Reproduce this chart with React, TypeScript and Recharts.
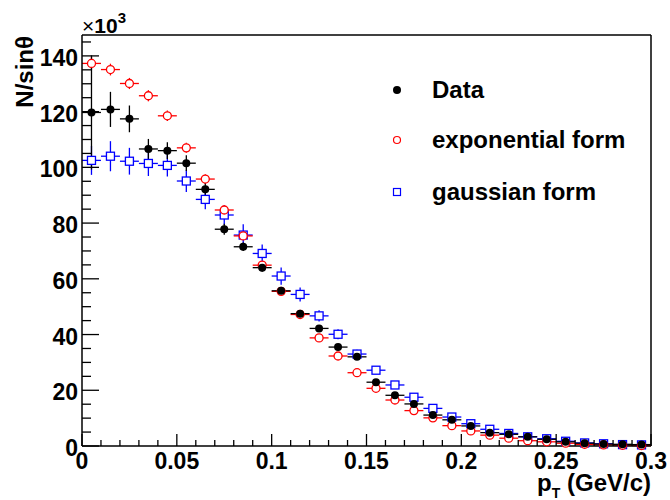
import { ScatterChart, Scatter, XAxis, YAxis, ErrorBar, ReferenceLine, Legend } from "recharts";

// bin centres in p_T (GeV/c), bin width 0.01
const ptCenters = [
  0.005, 0.015, 0.025, 0.035, 0.045, 0.055, 0.065, 0.075, 0.085, 0.095,
  0.105, 0.115, 0.125, 0.135, 0.145, 0.155, 0.165, 0.175, 0.185, 0.195,
  0.205, 0.215, 0.225, 0.235, 0.245, 0.255, 0.265, 0.275, 0.285, 0.295,
];
const binHalfWidth = 0.005;

// N/sin(theta), units of 10^3
const dataValues = [
  119.7, 120.8, 117.4, 106.6, 106.0, 101.5, 92.1, 77.8, 71.5, 64.0,
  55.7, 47.5, 42.2, 35.5, 32.0, 22.9, 18.2, 15.1, 11.1, 9.4,
  7.2, 4.8, 4.2, 3.3, 2.4, 1.5, 1.0, 0.7, 0.6, 0.5,
];
const dataErrors = [
  20.5, 6.3, 4.8, 3.6, 3.0, 2.8, 2.5, 2.0, 1.5, 1.5,
  1.2, 1.0, 1.0, 1.0, 0.8, 0.8, 0.7, 0.6, 0.5, 0.5,
  0.4, 0.4, 0.3, 0.3, 0.3, 0.2, 0.2, 0.2, 0.1, 0.1,
];

const expValues = [
  137.3, 135.1, 130.1, 125.7, 118.5, 107.0, 95.8, 84.7, 75.4, 64.9,
  55.5, 47.2, 38.8, 32.3, 26.3, 20.7, 16.5, 12.7, 10.1, 7.3,
  5.4, 3.9, 2.8, 1.9, 1.5, 1.0, 0.6, 0.4, 0.25, 0.15,
];
const expErrors = [
  2.2, 2.1, 2.0, 2.0, 1.9, 1.8, 1.7, 1.6, 1.5, 1.4,
  1.3, 1.2, 1.1, 1.0, 0.9, 0.8, 0.7, 0.6, 0.5, 0.5,
  0.4, 0.4, 0.3, 0.3, 0.2, 0.2, 0.2, 0.1, 0.1, 0.1,
];

const gausValues = [
  102.5, 104.0, 102.2, 101.4, 100.7, 95.1, 88.5, 82.9, 75.7, 69.1,
  61.0, 54.4, 46.7, 40.1, 33.0, 27.2, 21.9, 17.5, 13.5, 10.4,
  8.0, 6.0, 4.5, 3.3, 2.6, 1.7, 1.1, 0.8, 0.5, 0.4,
];
const gausErrors = [
  5.2, 5.4, 4.8, 4.5, 4.0, 3.9, 3.5, 3.5, 3.9, 3.2,
  3.1, 2.5, 2.0, 1.8, 1.5, 1.2, 1.0, 0.9, 0.8, 0.7,
  0.6, 0.5, 0.4, 0.4, 0.3, 0.3, 0.2, 0.2, 0.2, 0.1,
];

const seriesNames = ["Data", "exponential form", "gaussian form"];

// axis ticks (minor every 0.01 / 5, labelled majors)
const xTicks = [
  0, 0.01, 0.02, 0.03, 0.04, 0.05, 0.06, 0.07, 0.08, 0.09, 0.1,
  0.11, 0.12, 0.13, 0.14, 0.15, 0.16, 0.17, 0.18, 0.19, 0.2,
  0.21, 0.22, 0.23, 0.24, 0.25, 0.26, 0.27, 0.28, 0.29, 0.3,
];
const xMajorTicks = [0, 0.05, 0.1, 0.15, 0.2, 0.25, 0.3];
const xTickLabels = ["0", "0.05", "0.1", "0.15", "0.2", "0.25", "0.3"];

const yTicks = [
  0, 5, 10, 15, 20, 25, 30, 35, 40, 45, 50, 55, 60, 65, 70, 75,
  80, 85, 90, 95, 100, 105, 110, 115, 120, 125, 130, 135, 140, 145,
];
const yMajorTicks = [0, 20, 40, 60, 80, 100, 120, 140];
const yTickLabels = ["0", "20", "40", "60", "80", "100", "120", "140"];
const yMax = 147.5;

const FONT = '"Liberation Sans", Arial, Helvetica, sans-serif';

const toPoints = (values: number[], errors: number[]) =>
  ptCenters.map((x, i) => ({ x, y: values[i], ex: binHalfWidth, ey: errors[i] }));

const dataPoints = toPoints(dataValues, dataErrors);
const expPoints = toPoints(expValues, expErrors);
const gausPoints = toPoints(gausValues, gausErrors);

// --- markers ---
const FilledCircle = ({ cx, cy }: any) => <circle cx={cx} cy={cy} r={4} fill="#000" />;
const OpenCircle = ({ cx, cy }: any) => (
  <circle cx={cx} cy={cy} r={4} fill="#fff" stroke="#ff0000" strokeWidth={1.3} />
);
const OpenSquare = ({ cx, cy }: any) => (
  <rect x={cx - 4} y={cy - 4} width={8} height={8} fill="#fff" stroke="#0000ff" strokeWidth={1.3} />
);

// --- ticks drawn inside the frame, ROOT style ---
const XTick = ({ x, y, payload }: any) => {
  const k = xMajorTicks.findIndex((m) => Math.abs(m - payload.value) < 1e-6);
  const major = k >= 0;
  return (
    <g>
      <line x1={x} x2={x} y1={y} y2={y - (major ? 12 : 6)} stroke="#000" strokeWidth={1.3} />
      {major && (
        <text x={x} y={y + 23} textAnchor="middle" fontSize={23} fontWeight="bold" fontFamily={FONT} fill="#000">
          {xTickLabels[k]}
        </text>
      )}
    </g>
  );
};

const YTick = ({ x, y, payload }: any) => {
  const k = yMajorTicks.indexOf(payload.value);
  const major = k >= 0;
  return (
    <g>
      <line x1={x} x2={x + (major ? 17 : 9)} y1={y} y2={y} stroke="#000" strokeWidth={1.3} />
      {major && (
        <text x={x - 4} y={y + 10} textAnchor="end" fontSize={23} fontWeight="bold" fontFamily={FONT} fill="#000">
          {yTickLabels[k]}
        </text>
      )}
    </g>
  );
};

const XTitle = ({ viewBox }: any) => {
  const { x, y, width } = viewBox;
  return (
    <text x={x + width} y={y + 45} textAnchor="end" fontSize={24} fontWeight="bold" fontFamily={FONT} fill="#000">
      p<tspan fontSize={14} dy={7}>T</tspan>
      <tspan dy={-7}> (GeV/c)</tspan>
    </text>
  );
};

const YTitle = ({ viewBox }: any) => {
  const { x, y, width } = viewBox;
  return (
    <g fontFamily={FONT} fill="#000">
      <text transform={`translate(${x + 33}, ${y + 1}) rotate(-90)`} textAnchor="end" fontSize={24} fontWeight="bold">
        N/sinθ
      </text>
      <text x={x + width} y={y - 2} fontSize={21}>
        ×<tspan fontWeight="bold">10</tspan>
        <tspan dy={-10} fontSize={15} fontWeight="bold">3</tspan>
      </text>
    </g>
  );
};

const LegendBox = () => {
  const rows = [28, 78, 130];
  return (
    <svg width={270} height={150} style={{ display: "block" }}>
      <circle cx={17} cy={rows[0]} r={4} fill="#000" />
      <circle cx={17} cy={rows[1]} r={3.5} fill="#fff" stroke="#ff0000" strokeWidth={1.2} />
      <rect x={13.5} y={rows[2] - 3.5} width={7} height={7} fill="#fff" stroke="#0000ff" strokeWidth={1.2} />
      {seriesNames.map((name, i) => (
        <text key={name} x={52} y={rows[i] + 8} fontSize={24} fontWeight="bold" fontFamily={FONT} fill="#000">
          {name}
        </text>
      ))}
    </svg>
  );
};

export default function App() {
  return (
    <div style={{ position: "absolute", left: 0, top: 0, width: 670, height: 500, background: "#fff" }}>
      <ScatterChart width={670} height={500} margin={{ top: 35, right: 19, bottom: 0, left: 0 }}>
        <XAxis
          type="number"
          dataKey="x"
          domain={[0, 0.3]}
          ticks={xTicks}
          interval={0}
          tick={(p: any) => <XTick {...p} />}
          tickLine={false}
          tickSize={0}
          tickMargin={0}
          height={54}
          axisLine={{ stroke: "#000", strokeWidth: 1.5 }}
          label={(p: any) => <XTitle {...p} />}
        />
        <YAxis
          type="number"
          dataKey="y"
          domain={[0, yMax]}
          ticks={yTicks}
          interval={0}
          tick={(p: any) => <YTick {...p} />}
          tickLine={false}
          tickSize={0}
          tickMargin={0}
          width={82}
          axisLine={{ stroke: "#000", strokeWidth: 1.5 }}
          label={(p: any) => <YTitle {...p} />}
        />
        <ReferenceLine x={0.3} stroke="#000" strokeWidth={1.5} />
        <ReferenceLine y={yMax} stroke="#000" strokeWidth={1.5} />

        <Scatter name={seriesNames[2]} data={gausPoints} shape={OpenSquare} isAnimationActive={false}>
          <ErrorBar dataKey="ey" direction="y" width={0} stroke="#0000ff" strokeWidth={1.3} isAnimationActive={false} />
          <ErrorBar dataKey="ex" direction="x" width={0} stroke="#0000ff" strokeWidth={1.3} isAnimationActive={false} />
        </Scatter>
        <Scatter name={seriesNames[1]} data={expPoints} shape={OpenCircle} isAnimationActive={false}>
          <ErrorBar dataKey="ey" direction="y" width={0} stroke="#ff0000" strokeWidth={1.3} isAnimationActive={false} />
          <ErrorBar dataKey="ex" direction="x" width={0} stroke="#ff0000" strokeWidth={1.3} isAnimationActive={false} />
        </Scatter>
        <Scatter name={seriesNames[0]} data={dataPoints} shape={FilledCircle} isAnimationActive={false}>
          <ErrorBar dataKey="ey" direction="y" width={0} stroke="#000" strokeWidth={1.3} isAnimationActive={false} />
          <ErrorBar dataKey="ex" direction="x" width={0} stroke="#000" strokeWidth={1.3} isAnimationActive={false} />
        </Scatter>

        <Legend
          layout="vertical"
          align="center"
          verticalAlign="middle"
          wrapperStyle={{ left: 380, top: 62, width: 270, height: 150 }}
          content={() => <LegendBox />}
        />
      </ScatterChart>
    </div>
  );
}
